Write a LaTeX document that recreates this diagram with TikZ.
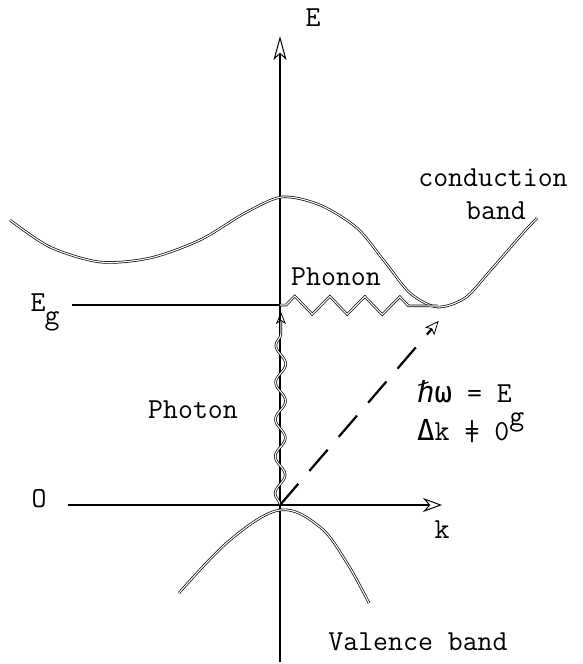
\documentclass[tikz,border=0pt]{standalone}
\usepackage{fontspec}
\newfontfamily\greekmono{DejaVu Sans Mono}
\usepackage{tikz}
\usetikzlibrary{arrows.meta, decorations.pathmorphing, positioning}

\begin{document}
\begin{tikzpicture}[x=1pt, y=-1pt,
  axis/.style={line width=1.8pt, -{Stealth[open, length=24pt, width=13pt, inset=6pt, line width=1pt]}},
  kaxis/.style={line width=1.4pt, -{Stealth[open, length=19pt, width=14pt, inset=6pt, line width=1pt]}},
  level/.style={line width=1.4pt},
  band/.style={double, double distance=1.1pt, line width=0.7pt},
  phonon/.style={band, decorate, decoration={zigzag, segment length=35pt, amplitude=9pt, pre length=6pt, post length=14pt}},
  photon/.style={band, decorate, decoration={snake, segment length=37pt, amplitude=5pt, post length=12pt},
                 -{Stealth[open, length=12pt, width=10pt, inset=3pt, line width=0.8pt]}},
  kick/.style={line width=2.2pt, dash pattern=on 28pt off 17pt,
               -{Stealth[open, length=14pt, width=12pt, inset=3pt, line width=0.8pt, sep=5pt]}},
  lab/.style={font=\fontsize{29}{30}\selectfont\ttfamily, inner sep=0pt},
]
  \useasboundingbox (0,0) rectangle (582,664);

  % axes and levels
  \coordinate (origin) at (280,505);
  \coordinate (etop) at (280,36);
  \coordinate (ebottom) at (280,662);
  \coordinate (kleft) at (68,505);
  \coordinate (kright) at (442,505);
  \coordinate (gapleft) at (72,305);
  \coordinate (gap) at (280,305);
  \coordinate (cbmin) at (438,306);
  \coordinate (photontip) at (281,312);
  \coordinate (kicktip) at (442,317);

  \draw[axis] (ebottom) -- (etop);
  \draw[kaxis] (kleft) -- (kright);
  \draw[level] (gapleft) -- (gap);

  % bands
  \draw[band] plot[smooth, tension=0.5] coordinates {(10,220) (50,247) (100,262) (150,258)
    (200,240) (245,213) (282,197) (320,205) (357,228) (385,262) (410,293) (437,307)
    (465,298) (490,271) (523,233) (537,218)};
  \draw[band] plot[smooth, tension=0.6] coordinates {(179,593) (230,540) (280,510)
    (320,527) (347,563) (369,603)};

  % transitions
  \draw[photon] (origin) -- (photontip);
  \draw[phonon] (gap) -- (cbmin);
  \draw[kick] (origin) -- (kicktip);

  % labels
  \node[lab] (elab) at (313,18) {E};
  \node[lab] (klab) at (442,530) {k};
  \node[lab] (olab) at (39,499) {O};
  \node[lab] (eglab) at (38,303) {E};
  \node[lab] (egsub) at (52,321) {g};
  \node[lab] (cond) at (493,178) {conduction};
  \node[lab] (cband) at (496,211) {band};
  \node[lab] (phononlab) at (336,277) {Phonon};
  \node[lab] (photonlab) at (193,410) {Photon};
  \node[lab] (vband) at (418,642) {Valence band};
  \node[lab, anchor=north west, align=left, font=\fontsize{29}{38}\selectfont\ttfamily] (cond2) at (417,380)
    {{\greekmono ℏω} = E\\
     {\greekmono Δ}k {\ooalign{=\cr\hfil|\hfil\cr}} 0\raisebox{15pt}{g}};
\end{tikzpicture}
\end{document}
